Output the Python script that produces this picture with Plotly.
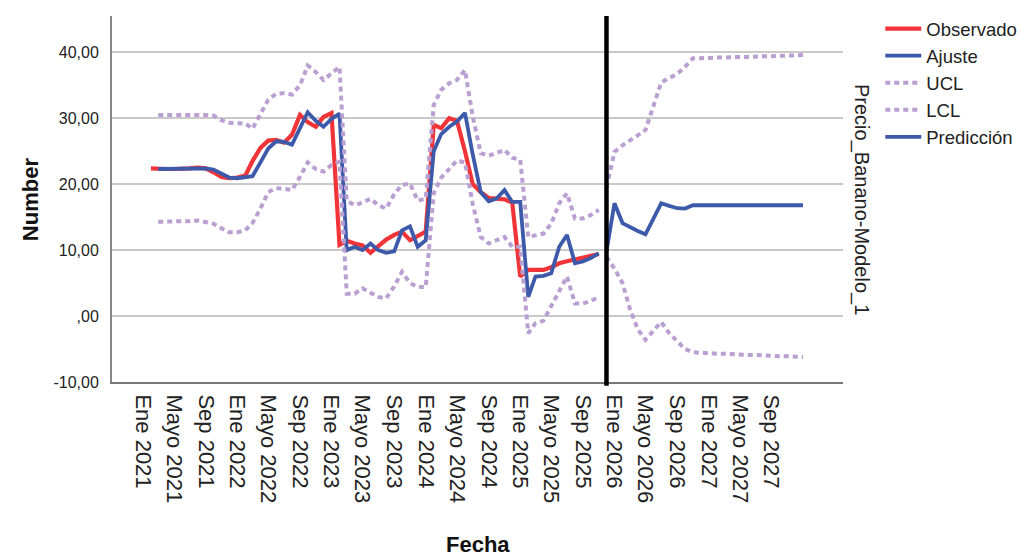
import pandas as pd
import plotly.graph_objects as go

# ---------------- data ----------------
obs_start = "2021-02-01"
observado = [22.4, 22.3, 22.3, 22.3, 22.3, 22.4, 22.5, 22.4, 21.8, 21.1,
             20.9, 21.0, 21.3, 23.5, 25.5, 26.6, 26.7, 26.3, 27.5, 30.5,
             29.4, 28.7, 30.2, 30.8, 10.8, 11.4, 11.0, 10.7, 9.6, 10.6,
             11.6, 12.3, 12.8, 11.5, 12.1, 12.8, 29.0, 28.5, 30.0, 29.6,
             25.0, 20.0, 18.8, 17.9, 17.8, 17.7, 17.2, 6.0, 7.0, 7.0,
             7.0, 7.4, 8.0, 8.3, 8.6, 8.9, 9.1, 9.4]

fit_start = "2021-03-01"
ajuste = [22.3, 22.3, 22.3, 22.3, 22.3, 22.4, 22.4, 22.2, 21.6, 21.0,
          20.9, 21.0, 21.2, 23.3, 25.4, 26.5, 26.4, 26.0, 28.5, 30.9,
          29.6, 28.7, 29.9, 30.7, 10.0, 10.5, 10.0, 11.0, 10.0, 9.6,
          9.8, 13.0, 13.6, 10.5, 11.5, 25.0, 27.6, 28.7, 29.5, 30.8,
          24.5, 18.8, 17.4, 17.8, 19.1, 17.3, 17.3, 2.9, 6.0, 6.1,
          6.5, 10.5, 12.3, 8.0, 8.3, 8.8, 9.5]
ucl_fit = [30.5, 30.5, 30.5, 30.5, 30.6, 30.6, 30.5, 30.4, 29.7, 29.3,
           29.2, 29.2, 28.4, 30.5, 32.8, 33.7, 33.8, 33.6, 35.0, 38.0,
           37.0, 35.8, 36.8, 37.8, 17.5, 16.8, 17.2, 17.8, 16.8, 16.3,
           18.5, 19.9, 20.1, 17.5, 17.8, 32.0, 34.3, 35.3, 35.8, 37.3,
           30.3, 24.7, 24.3, 24.7, 25.2, 24.0, 23.7, 12.0, 12.2, 12.5,
           14.0, 17.1, 18.6, 14.8, 14.8, 15.3, 16.1]
lcl_fit = [14.3, 14.3, 14.3, 14.3, 14.4, 14.5, 14.3, 14.0, 13.3, 12.7,
           12.7, 13.0, 14.1, 16.3, 18.8, 19.4, 19.3, 19.1, 21.1, 23.3,
           22.3, 21.9, 22.9, 23.4, 3.4, 3.4, 4.2, 3.6, 2.9, 2.7,
           4.5, 6.7, 5.0, 4.4, 4.4, 18.6, 21.0, 22.3, 23.6, 23.3,
           17.0, 12.0, 11.0, 11.5, 12.0, 10.5, 10.5, -2.6, -1.1, -0.7,
           1.5, 3.9, 6.0, 1.9, 1.9, 2.3, 2.9]

pred_start = "2025-12-01"
prediccion = [9.8, 17.1, 14.1, 13.5, 12.9, 12.4, 14.8, 17.1, 16.7, 16.35,
              16.3, 16.8, 16.8, 16.8, 16.8, 16.8, 16.8, 16.8, 16.8, 16.8,
              16.8, 16.8, 16.8, 16.8, 16.8, 16.8]
ucl_pred = [19.5, 24.9, 25.9, 26.7, 27.4, 28.2, 32.0, 35.4, 36.1, 36.7,
            37.8, 39.1, 39.1, 39.2, 39.2, 39.2, 39.3, 39.3, 39.3, 39.4,
            39.4, 39.4, 39.5, 39.5, 39.5, 39.6]
lcl_pred = [9.0, 7.2, 5.0, 1.2, -2.0, -3.6, -2.2, -0.9, -2.6, -3.9,
            -5.0, -5.5, -5.6, -5.6, -5.7, -5.7, -5.8, -5.8, -5.9, -5.9,
            -6.0, -6.0, -6.1, -6.1, -6.2, -6.2]

ref_date = "2025-12-01"

tick_dates = pd.date_range("2021-01-01", "2027-09-01", freq="4MS")
tick_labels = ["Ene 2021", "Mayo 2021", "Sep 2021", "Ene 2022", "Mayo 2022", "Sep 2022",
               "Ene 2023", "Mayo 2023", "Sep 2023", "Ene 2024", "Mayo 2024", "Sep 2024",
               "Ene 2025", "Mayo 2025", "Sep 2025", "Ene 2026", "Mayo 2026", "Sep 2026",
               "Ene 2027", "Mayo 2027", "Sep 2027"]
y_ticks = [-10, 0, 10, 20, 30, 40]
y_labels = ["-10,00", ",00", "10,00", "20,00", "30,00", "40,00"]

# ---------------- figure ----------------
def dates(start, n):
    return pd.date_range(start, periods=n, freq="MS")

RED = "#f03438"
BLUE = "#3d59aa"
PURPLE = "#b99fd2"
FONT = "Liberation Sans, Arial, sans-serif"
DOT = "5px,4px"

fig = go.Figure()
fig.add_trace(go.Scatter(x=dates(obs_start, len(observado)), y=observado, mode="lines",
                         name="Observado", line=dict(color=RED, width=4.2)))
fig.add_trace(go.Scatter(x=dates(fit_start, len(ajuste)), y=ajuste, mode="lines",
                         name="Ajuste", line=dict(color=BLUE, width=3.8)))
fig.add_trace(go.Scatter(x=dates(fit_start, len(ucl_fit)), y=ucl_fit, mode="lines",
                         name="UCL", legendgroup="ucl",
                         line=dict(color=PURPLE, width=4, dash=DOT)))
fig.add_trace(go.Scatter(x=dates(fit_start, len(lcl_fit)), y=lcl_fit, mode="lines",
                         name="LCL", legendgroup="lcl",
                         line=dict(color=PURPLE, width=4, dash=DOT)))
fig.add_trace(go.Scatter(x=dates(pred_start, len(ucl_pred)), y=ucl_pred, mode="lines",
                         name="UCL", legendgroup="ucl", showlegend=False,
                         line=dict(color=PURPLE, width=4, dash=DOT)))
fig.add_trace(go.Scatter(x=dates(pred_start, len(lcl_pred)), y=lcl_pred, mode="lines",
                         name="LCL", legendgroup="lcl", showlegend=False,
                         line=dict(color=PURPLE, width=4, dash=DOT)))
fig.add_trace(go.Scatter(x=dates(pred_start, len(prediccion)), y=prediccion, mode="lines",
                         name="Predicción", line=dict(color=BLUE, width=3.8)))

fig.add_shape(type="line", xref="x", yref="paper", x0=ref_date, x1=ref_date,
              y0=-0.01, y1=1, line=dict(color="black", width=4.5))

fig.update_layout(
    width=1021, height=556,
    margin=dict(l=112, r=178, t=16, b=174, autoexpand=False),
    paper_bgcolor="white", plot_bgcolor="white",
    font=dict(family=FONT, color="#222222"),
    showlegend=True,
    legend=dict(x=1.051, y=1.016, xanchor="left", yanchor="top",
                font=dict(size=18.5, family=FONT, color="#222222"),
                tracegroupgap=0, itemwidth=36, bgcolor="rgba(0,0,0,0)"),
    xaxis=dict(range=["2020-09-03", "2028-06-04"], tickvals=tick_dates, ticktext=tick_labels,
               tickangle=90, tickfont=dict(size=22, family=FONT, color="#222222"),
               showgrid=False, zeroline=False, showline=True, linecolor="#777777", linewidth=2,
               ticks="outside", ticklen=6, tickcolor="rgba(0,0,0,0)"),
    yaxis=dict(range=[-10, 45.5], tickvals=y_ticks, ticktext=y_labels,
               tickfont=dict(size=16, family=FONT, color="#222222"),
               showgrid=True, gridcolor="#c9c9c9", gridwidth=2, zeroline=False,
               showline=True, linecolor="#888888", linewidth=2,
               ticks="outside", ticklen=8, tickcolor="rgba(0,0,0,0)"),
)

fig.add_annotation(text="<b>Number</b>", xref="paper", yref="paper", x=-0.112, y=0.5,
                   textangle=-90, showarrow=False, font=dict(size=22, family=FONT, color="#111111"),
                   xanchor="center", yanchor="middle")
fig.add_annotation(text="<b>Fecha</b>", xref="paper", yref="paper", x=0.5, y=-0.444,
                   showarrow=False, font=dict(size=22, family=FONT, color="#111111"),
                   xanchor="center", yanchor="middle")
fig.add_annotation(text="Precio_Banano-Modelo_1", xref="paper", yref="paper", x=1.026, y=0.5,
                   textangle=90, showarrow=False, font=dict(size=20, family=FONT, color="#222222"),
                   xanchor="center", yanchor="middle")

fig.write_html("out.html")
